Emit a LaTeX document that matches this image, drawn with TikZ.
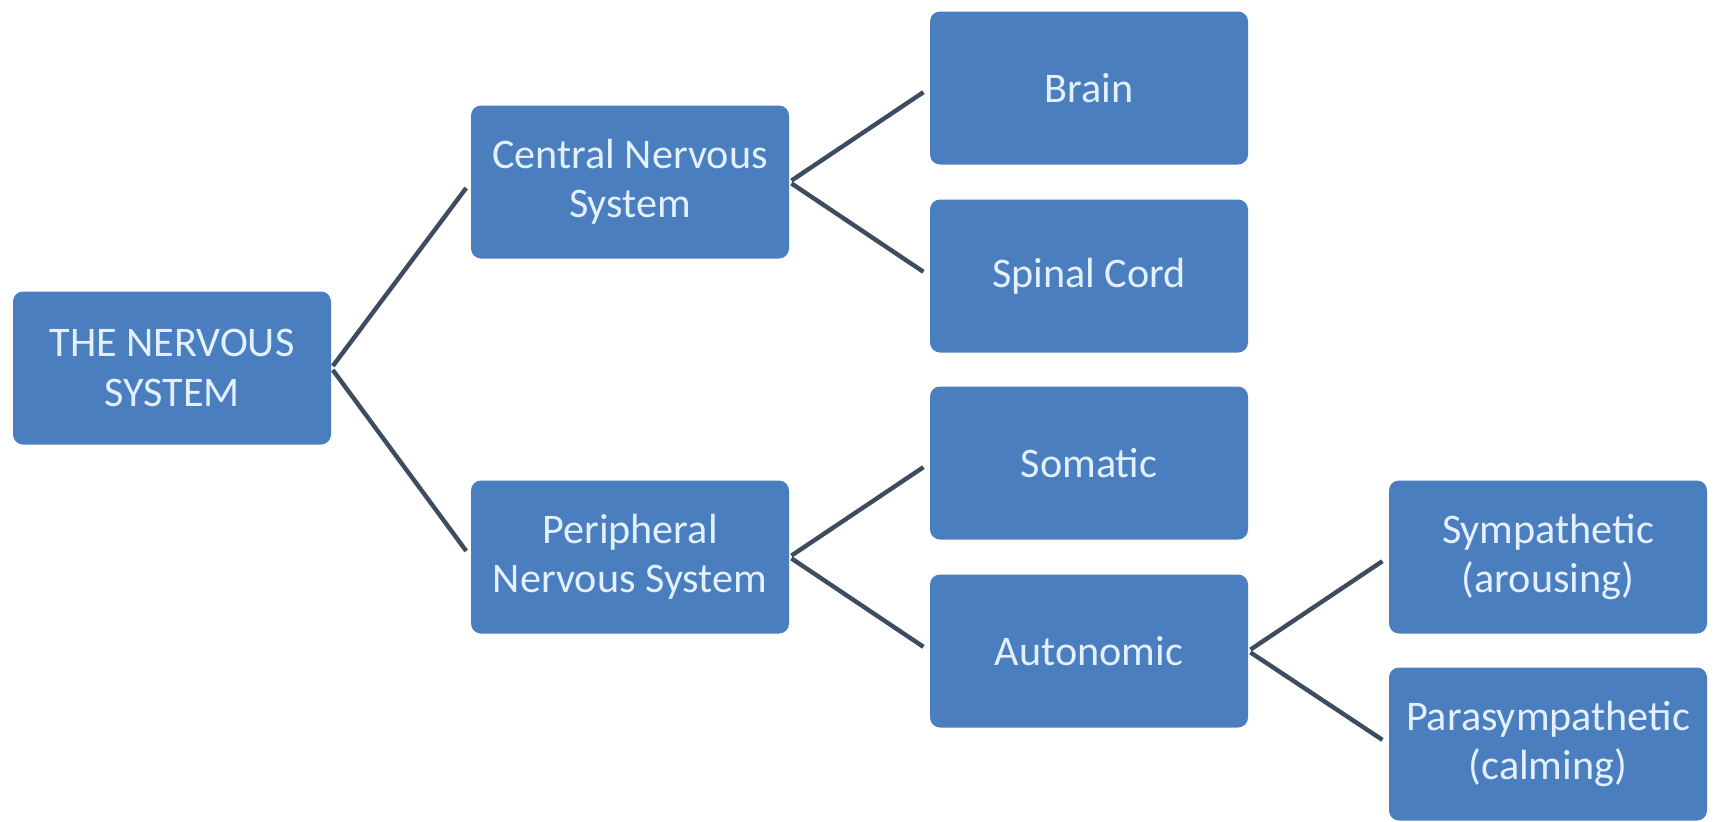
\documentclass[tikz,border=0pt]{standalone}
\usepackage{fontspec}
\setmainfont{Carlito}
\usepackage{tikz}
\usetikzlibrary{shapes,positioning}
\definecolor{boxblue}{HTML}{4A7EBF}
\definecolor{boxtext}{HTML}{E2F0FF}
\definecolor{linkgray}{HTML}{3E4C60}
\tikzset{sys/.style={rectangle,rounded corners=0.2cm,fill=boxblue,text=boxtext,minimum width=6.36cm,minimum height=3.06cm,align=center,font=\fontsize{24}{28}\selectfont,inner sep=0pt},
link/.style={draw=linkgray,line width=2.5pt,shorten <=0.05cm,shorten >=0.15cm}}

\begin{document}
\begin{tikzpicture}
    \useasboundingbox[fill=white] (0,0) rectangle (34.38,-16.42);
    \node[sys] (ns)at (3.44,-7.36) {THE NERVOUS\\SYSTEM};
    \node[sys] (cns)at (12.6,-3.64) {Central Nervous\\System};
    \node[sys] (pns)at (12.6,-11.14) {Peripheral\\Nervous System};
    \node[sys] (brain)at (21.78,-1.76) {Brain};
    \node[sys] (cord)at (21.78,-5.52) {Spinal Cord};
    \node[sys] (soma)at (21.78,-9.26) {Somatic};
    \node[sys] (auto)at (21.78,-13.02) {Autonomic};
    \node[sys] (symp)at (30.96,-11.14) {Sympathetic\\(arousing)};
    \node[sys] (para)at (30.96,-14.88) {Parasympathetic\\(calming)};

    \draw [link] (ns.east) to (cns.west);
    \draw [link] (ns.east) to (pns.west);
    \draw [link] (cns.east) to (brain.west);
    \draw [link] (cns.east) to (cord.west);
    \draw [link] (pns.east) to (soma.west);
    \draw [link] (pns.east) to (auto.west);
    \draw [link] (auto.east) to (symp.west);
    \draw [link] (auto.east) to (para.west);
\end{tikzpicture}
\end{document}
